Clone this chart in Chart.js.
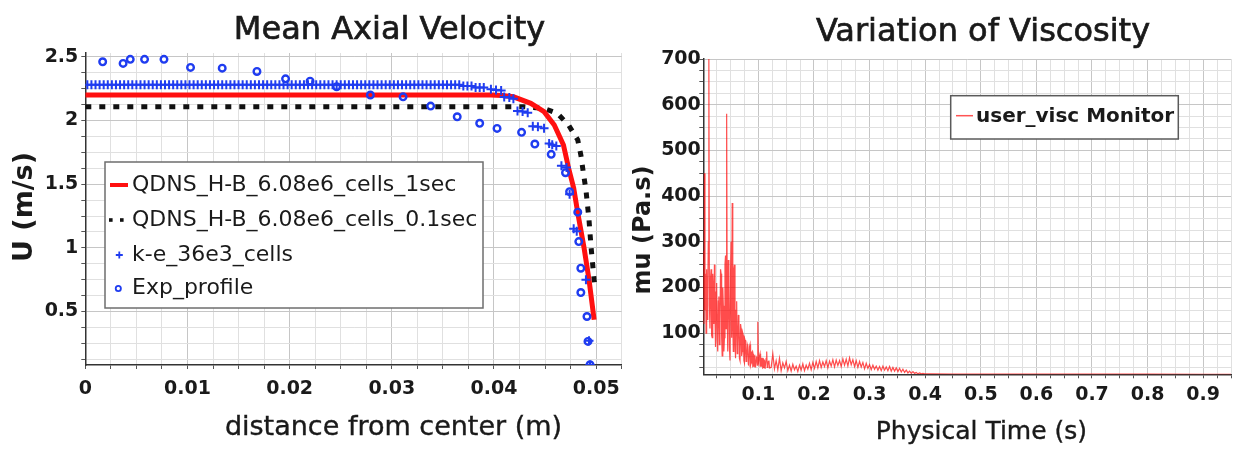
<!DOCTYPE html>
<html><head><meta charset="utf-8">
<script src="https://cdn.jsdelivr.net/npm/chart.js@4.4.1/dist/chart.umd.min.js"></script>
<style>
html,body{margin:0;padding:0;background:#fff;}
#wrap{position:relative;width:1236px;height:449px;overflow:hidden;background:#fff;}
#c1{position:absolute;left:0;top:0;}
#c2{position:absolute;left:632px;top:0;}
</style></head><body>
<div id="wrap"><canvas id="c1" width="632" height="449"></canvas><canvas id="c2" width="604" height="449"></canvas></div>
<script>
// ---------------- DATA : Mean Axial Velocity ----------------
const q1X  = [0, 0.020, 0.0397, 0.0408, 0.0419, 0.0436, 0.0449, 0.0459, 0.0468, 0.0473, 0.0478, 0.0482, 0.0488, 0.0493, 0.0498];
const q1U  = [2.20, 2.20, 2.20, 2.197, 2.186, 2.135, 2.069, 1.964, 1.807, 1.627, 1.47, 1.274, 1.007, 0.75, 0.435];

const q01X = [0, 0.020, 0.0429, 0.0449, 0.0462, 0.0473, 0.0482, 0.0485, 0.0488, 0.0490, 0.0493, 0.0495, 0.0498, 0.0499];
const q01U = [2.108, 2.108, 2.108, 2.095, 2.056, 1.964, 1.847, 1.73, 1.56, 1.455, 1.22, 1.007, 0.75, 0.68];

const keX = [
 0.0002,0.0006,0.0010,0.0014,0.0018,0.0022,0.0026,0.0030,0.0034,0.0038,
 0.0042,0.0046,0.0050,0.0054,0.0058,0.0062,0.0066,0.0070,0.0074,0.0078,
 0.0082,0.0086,0.0090,0.0094,0.0098,0.0102,0.0106,0.0110,0.0114,0.0118,
 0.0122,0.0126,0.0130,0.0134,0.0138,0.0142,0.0146,0.0150,0.0154,0.0158,
 0.0162,0.0166,0.0170,0.0174,0.0178,0.0182,0.0186,0.0190,0.0194,0.0198,
 0.0202,0.0206,0.0210,0.0214,0.0218,0.0222,0.0226,0.0230,0.0234,0.0238,
 0.0242,0.0246,0.0250,0.0254,0.0258,0.0262,0.0266,0.0270,0.0274,0.0278,
 0.0282,0.0286,0.0290,0.0294,0.0298,0.0302,0.0306,0.0310,0.0314,0.0318,
 0.0322,0.0326,0.0330,0.0334,0.0338,0.0342,0.0346,0.0350,0.0354,0.0358,
 0.0362,0.0366,0.0370,0.0374,0.0378,0.0382,0.0386,0.0390,
 0.0397,0.0402,0.0407,0.0410,0.0415,0.0419,0.0423,0.0428,0.0433,0.0438,
 0.0443,0.0449,0.0454,0.0457,0.0461,0.0466,0.0471,0.0474,0.0478,0.0481,
 0.0490,0.0493,0.0494];
const keU = [
 2.28,2.28,2.28,2.28,2.28,2.28,2.28,2.28,2.28,2.28,
 2.28,2.28,2.28,2.28,2.28,2.28,2.28,2.28,2.28,2.28,
 2.28,2.28,2.28,2.28,2.28,2.28,2.28,2.28,2.28,2.28,
 2.28,2.28,2.28,2.28,2.28,2.28,2.28,2.28,2.28,2.28,
 2.28,2.28,2.28,2.28,2.28,2.28,2.28,2.28,2.28,2.28,
 2.28,2.28,2.28,2.28,2.28,2.28,2.28,2.28,2.28,2.28,
 2.28,2.28,2.28,2.28,2.28,2.28,2.28,2.28,2.28,2.28,
 2.28,2.28,2.28,2.28,2.28,2.28,2.28,2.28,2.28,2.28,
 2.28,2.28,2.28,2.28,2.28,2.28,2.28,2.28,2.28,2.28,
 2.28,2.28,2.27,2.27,2.27,2.26,2.26,2.26,
 2.245,2.24,2.235,2.185,2.18,2.17,2.075,2.07,2.06,1.955,
 1.95,1.94,1.82,1.81,1.80,1.645,1.63,1.42,1.15,1.13,
 0.75,0.27,0.08];

const expX = [0.0017,0.0037,0.0044,0.0058,0.0077,0.0103,0.0134,0.0168,0.0196,0.0220,
              0.0246,0.0279,0.0311,0.0338,0.0364,0.0386,0.0403,0.0427,0.0440,0.0456,
              0.0470,0.0474,0.0482,0.0483,0.0485,0.0485,0.0491,0.0492,0.0494];
const expU = [2.461,2.448,2.48,2.48,2.48,2.417,2.411,2.385,2.327,2.309,
              2.265,2.20,2.186,2.113,2.029,1.978,1.938,1.907,1.815,1.734,
              1.59,1.441,1.28,1.049,0.84,0.649,0.461,0.265,0.082];

const distMajor  = [0, 0.01, 0.02, 0.03, 0.04, 0.05];
const distLabels = ['0','0.01','0.02','0.03','0.04','0.05'];
const uMajor     = [0.5, 1, 1.5, 2, 2.5];
const uLabels    = ['0.5','1','1.5','2','2.5'];
const seriesNames1 = ['QDNS_H-B_6.08e6_cells_1sec','QDNS_H-B_6.08e6_cells_0.1sec','k-e_36e3_cells','Exp_profile'];

// ---------------- DATA : Variation of Viscosity ----------------
const muT = [
 0.001,0.002,0.003,0.004,0.005,0.006,0.007,0.008,0.009,0.010,
 0.011,0.012,0.013,0.014,0.015,0.016,0.017,0.018,0.019,0.020,
 0.021,0.022,0.023,0.024,0.025,0.026,0.027,0.028,0.029,0.030,
 0.031,0.032,0.033,0.034,0.035,0.036,0.037,0.038,0.039,0.040,
 0.041,0.042,0.043,0.044,0.045,0.046,0.047,0.048,0.049,0.050,
 0.051,0.052,0.053,0.054,0.055,0.056,0.057,0.058,0.059,0.060,
 0.061,0.062,0.063,0.064,0.065,0.066,0.067,0.068,0.069,0.070,
 0.071,0.072,0.073,0.074,0.075,0.076,0.077,0.078,0.079,0.080,
 0.081,0.082,0.083,0.084,0.085,0.086,0.087,0.088,0.089,0.090,
 0.091,0.092,0.093,0.094,0.095,0.096,0.097,0.098,0.099,0.100,
 0.101,0.102,0.103,0.104,0.105,0.106,0.107,0.108,0.109,0.110,
 0.111,0.112,0.113,0.114,0.115,0.116,0.117,0.118,0.119,0.120,
 0.123,0.126,0.129,0.132,0.135,0.138,0.141,0.144,0.147,0.150,
 0.153,0.156,0.159,0.162,0.165,0.168,0.171,0.174,0.177,0.180,
 0.183,0.186,0.189,0.192,0.195,0.198,0.201,0.204,0.207,0.210,
 0.213,0.216,0.219,0.222,0.225,0.228,0.231,0.234,0.237,0.240,
 0.243,0.246,0.249,0.252,0.255,0.258,0.261,0.264,0.267,0.270,
 0.273,0.276,0.279,0.282,0.285,0.288,0.291,0.294,0.297,0.300,
 0.303,0.306,0.309,0.312,0.315,0.318,0.321,0.324,0.327,0.330,
 0.333,0.336,0.339,0.342,0.345,0.348,0.351,0.354,0.357,0.360,
 0.363,0.366,0.369,0.372,0.375,0.378,0.381,0.384,0.387,0.390,
 0.393,0.396,0.399,
 0.41,0.45,0.5,0.6,0.7,0.8,0.9,0.95];
const muV = [
 280,120,450,150,230,100,240,130,180,300,
 700,160,110,220,240,95,90,230,200,120,
 250,140,70,190,210,85,60,170,180,75,
 130,240,230,90,50,200,160,60,90,250,
 270,110,580,140,60,260,210,70,40,230,
 300,90,385,120,60,240,250,80,45,150,
 170,55,70,140,130,45,40,120,110,50,
 60,100,95,40,35,85,80,38,45,75,
 70,32,30,70,75,30,35,58,60,27,
 28,52,50,26,30,48,45,30,125,40,
 35,50,55,28,28,45,45,24,25,42,
 40,22,22,45,60,25,30,38,40,24,
 25,55,22,40,20,45,18,35,24,38,
 18,30,17,32,20,28,16,30,19,33,
 18,30,21,34,20,36,23,38,24,40,
 25,37,27,40,24,39,28,42,26,41,
 29,40,27,44,30,43,28,46,31,42,
 27,40,25,38,26,36,22,34,23,31,
 20,30,21,28,19,27,18,28,19,26,
 18,27,17,25,17,24,16,23,15,21,
 14,19,13,17,12,16,12,14,11,13,
 11,12,11,
 10.8,10.5,10.4,10.3,10.2,10.2,10.1,10.1];

const timeMajor  = [0.1,0.2,0.3,0.4,0.5,0.6,0.7,0.8,0.9];
const timeLabels = ['0.1','0.2','0.3','0.4','0.5','0.6','0.7','0.8','0.9'];
const muMajor    = [100,200,300,400,500,600,700];
const muLabels   = ['100','200','300','400','500','600','700'];
const seriesName2 = 'user_visc Monitor';

// ---------------- helpers ----------------
Chart.defaults.font.family = "'DejaVu Sans', sans-serif";
Chart.defaults.color = '#1a1a1a';
Chart.defaults.animation = false;
const FAM = "'DejaVu Sans', sans-serif";

function pts(xs, ys){ return xs.map((x,i)=>({x:x, y:ys[i]})); }
function near(v, arr){ return arr.findIndex(a => Math.abs(a - v) < 1e-7); }
function gridList(step, n0, n1){ const a=[]; for(let i=n0;i<=n1;i++) a.push(+(i*step).toFixed(6)); return a; }
function gridColor(major){ return c => (c.tick && near(c.tick.value, major) >= 0) ? '#c6c6c6' : '#e0e0e0'; }
function labelCb(major, labels){ return v => { const i = near(v, major); return i < 0 ? '' : labels[i]; }; }

const TICKFONT = {size:19, weight:'bold'};

function textPlugin(items){
  return { id:'txt', afterDraw(chart){
    const ctx = chart.ctx; ctx.save();
    ctx.fillStyle = '#1a1a1a'; ctx.strokeStyle = '#1a1a1a'; ctx.textAlign='center'; ctx.textBaseline='middle';
    items.forEach(t => {
      ctx.font = t.font;
      ctx.save(); ctx.translate(t.x,t.y); if (t.rot) ctx.rotate(-Math.PI/2);
      ctx.fillText(t.text,0,0);
      if (t.stroke){ ctx.lineWidth = t.stroke; ctx.strokeText(t.text,0,0); }
      ctx.restore();
    });
    ctx.restore();
  }};
}

// ---------------- Chart 1 ----------------
const legend1 = { id:'leg1', afterDraw(chart){
  const ctx = chart.ctx; ctx.save();
  ctx.fillStyle='#fff'; ctx.fillRect(105,162,378,146);
  ctx.strokeStyle='#6e6e6e'; ctx.lineWidth=1.5; ctx.strokeRect(105,162,378,146);
  const rows=[185,220,255,288.5];
  ctx.strokeStyle='#ff1010'; ctx.lineWidth=4; ctx.beginPath(); ctx.moveTo(110,rows[0]); ctx.lineTo(128,rows[0]); ctx.stroke();
  ctx.fillStyle='#111'; ctx.fillRect(109,rows[1]-1.8,3.6,3.6); ctx.fillRect(120,rows[1]-1.8,3.6,3.6);
  ctx.strokeStyle='#1f3cf0'; ctx.lineWidth=1.8; ctx.beginPath();
  ctx.moveTo(115.8,rows[2]); ctx.lineTo(122.8,rows[2]); ctx.moveTo(119.3,rows[2]-3.5); ctx.lineTo(119.3,rows[2]+3.5); ctx.stroke();
  ctx.beginPath(); ctx.arc(118.3,rows[3],2.6,0,Math.PI*2); ctx.stroke();
  ctx.fillStyle='#1a1a1a'; ctx.font='22px '+FAM; ctx.textAlign='left'; ctx.textBaseline='middle';
  seriesNames1.forEach((s,i)=>ctx.fillText(s,132,rows[i]));
  ctx.restore();
}};

new Chart(document.getElementById('c1'), {
  type:'scatter',
  data:{ datasets:[
    {label:seriesNames1[0], data:pts(q1X,q1U), showLine:true, borderColor:'#ff1010', borderWidth:5, pointRadius:0, order:3},
    {label:seriesNames1[1], data:pts(q01X,q01U), showLine:true, borderColor:'#111', borderWidth:5, borderDash:[6,8], borderCapStyle:'butt', pointRadius:0, order:4},
    {label:seriesNames1[2], data:pts(keX,keU), showLine:false, pointStyle:'cross', pointRadius:4.5, pointBorderColor:'#1f3cf0', pointBorderWidth:2, borderColor:'#1f3cf0', order:2},
    {label:seriesNames1[3], data:pts(expX,expU), showLine:false, pointStyle:'circle', pointRadius:3.3, pointBorderColor:'#1f3cf0', pointBackgroundColor:'rgba(0,0,0,0)', pointBorderWidth:2.4, borderColor:'#1f3cf0', order:1}
  ]},
  options:{
    responsive:false, devicePixelRatio:1, animation:false,
    layout:{padding:{top:53, right:10.3, left:0, bottom:0}},
    plugins:{legend:{display:false}, tooltip:{enabled:false}},
    scales:{
      x:{ type:'linear', min:0, max:0.0525,
        afterBuildTicks: s => { s.ticks = gridList(0.0025,0,21).map(v=>({value:v})); },
        afterFit: s => { s.height = 84; },
        ticks:{ autoSkip:false, maxRotation:0, padding:9, font:TICKFONT, color:'#1a1a1a', callback:labelCb(distMajor,distLabels) },
        grid:{ color:gridColor(distMajor), tickColor:'#555', tickLength:4, lineWidth:1 },
        border:{ color:'#333', width:1.5 }
      },
      y:{ type:'linear', min:0.08, max:2.53,
        afterBuildTicks: s => { s.ticks = gridList(0.125,1,20).map(v=>({value:v})); },
        afterFit: s => { s.width = 85.3; },
        ticks:{ autoSkip:false, padding:3, font:TICKFONT, color:'#1a1a1a', callback:labelCb(uMajor,uLabels) },
        grid:{ color:gridColor(uMajor), tickColor:'#555', tickLength:4, lineWidth:1 },
        border:{ color:'#333', width:1.5 }
      }
    }
  },
  plugins:[legend1, textPlugin([
    {text:'Mean Axial Velocity', x:389.5, y:31, font:'32px '+FAM, stroke:0.7},
    {text:'distance from center (m)', x:393.5, y:428, font:'27px '+FAM, stroke:0.4},
    {text:'U (m/s)', x:25, y:207, font:'bold 27px '+FAM, rot:true}
  ])]
});

// ---------------- Chart 2 ----------------
const legend2 = { id:'leg2', afterDraw(chart){
  const ctx = chart.ctx; ctx.save();
  ctx.fillStyle='#fff'; ctx.fillRect(318.7,95.7,227.6,43.3);
  ctx.strokeStyle='#5a5a5a'; ctx.lineWidth=1.5; ctx.strokeRect(318.7,95.7,227.6,43.3);
  ctx.strokeStyle='rgba(255,40,40,0.8)'; ctx.lineWidth=1.5; ctx.beginPath(); ctx.moveTo(324,115.7); ctx.lineTo(341,115.7); ctx.stroke();
  ctx.fillStyle='#1a1a1a'; ctx.font='bold 20px '+FAM; ctx.textAlign='left'; ctx.textBaseline='middle';
  ctx.fillText(seriesName2,344,116.5);
  ctx.restore();
}};

new Chart(document.getElementById('c2'), {
  type:'scatter',
  data:{ datasets:[
    {label:seriesName2, data:pts(muT,muV), showLine:true, borderColor:'rgba(255,0,0,0.7)', borderWidth:1.2, pointRadius:0}
  ]},
  options:{
    responsive:false, devicePixelRatio:1, animation:false,
    layout:{padding:{top:59, right:2, left:0, bottom:0}},
    plugins:{legend:{display:false}, tooltip:{enabled:false}},
    scales:{
      x:{ type:'linear', min:0.001, max:0.95,
        afterBuildTicks: s => { s.ticks = gridList(0.025,1,38).map(v=>({value:v})); },
        afterFit: s => { s.height = 74.7; },
        ticks:{ autoSkip:false, maxRotation:0, padding:5, font:TICKFONT, color:'#1a1a1a', callback:labelCb(timeMajor,timeLabels) },
        grid:{ color:gridColor(timeMajor), tickColor:'#555', tickLength:4, lineWidth:1 },
        border:{ color:'#333', width:1.5 }
      },
      y:{ type:'linear', min:10, max:700,
        afterBuildTicks: s => { s.ticks = gridList(25,1,28).map(v=>({value:v})); },
        afterFit: s => { s.width = 71.3; },
        ticks:{ autoSkip:false, padding:-1.5, font:TICKFONT, color:'#1a1a1a', callback:labelCb(muMajor,muLabels) },
        grid:{ color:gridColor(muMajor), tickColor:'#555', tickLength:4, lineWidth:1 },
        border:{ color:'#333', width:1.5 }
      }
    }
  },
  plugins:[legend2, textPlugin([
    {text:'Variation of Viscosity', x:351, y:33, font:'32px '+FAM, stroke:0.7},
    {text:'Physical Time (s)', x:349.4, y:432, font:'25px '+FAM, stroke:0.4},
    {text:'mu (Pa.s)', x:12, y:230, font:'bold 24px '+FAM, rot:true}
  ])]
});
</script>
</body></html>
